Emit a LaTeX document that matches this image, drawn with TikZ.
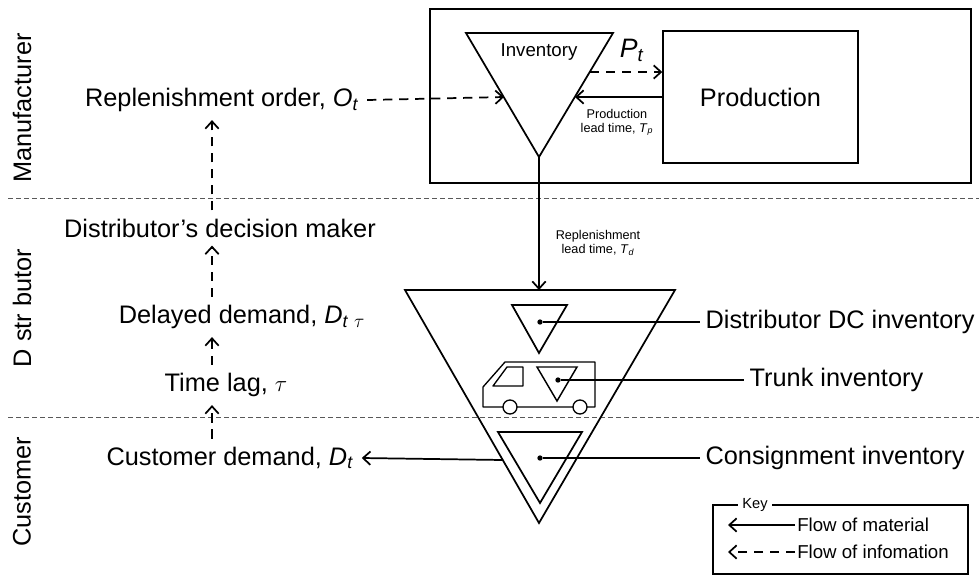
\documentclass[tikz,border=0pt]{standalone}
\usepackage{fontspec}
\setmainfont{Liberation Sans}
\usetikzlibrary{positioning,arrows.meta}
\newcommand{\vsub}[2]{\textit{#1}\textsubscript{\textit{#2}}}

\begin{document}
\begin{tikzpicture}[
    x=0.75pt, y=-0.75pt,
    node distance=4pt,
    lbl/.style={font=\fontsize{19}{22}\selectfont, inner sep=6pt},
    side/.style={font=\fontsize{19}{22}\selectfont, rotate=90},
    small/.style={font=\fontsize{9.5}{10.5}\selectfont, align=center, inner sep=1pt},
    keytext/.style={font=\fontsize{14}{16}\selectfont, anchor=west, inner sep=1.5pt},
    frame/.style={draw, line width=1.3pt},
    tri/.style={draw, line width=1.3pt, line join=miter},
    truck/.style={draw, line width=1pt, line join=round},
    arrow/.style={-{Straight Barb[length=5.5pt,width=10pt]}, line width=1.3pt},
    infoarrow/.style={arrow, dash pattern=on 7pt off 5pt},
    sep/.style={draw, gray!70!black, line width=0.6pt, dash pattern=on 4pt off 2pt},
    leader/.style={draw, line width=0.8pt},
    dot/.style={circle, fill, inner sep=0pt, minimum size=4pt}
]
\useasboundingbox (0,0) rectangle (979,576);

% tiers
\draw[sep] (8,198) -- (979,198);
\draw[sep] (8,417) -- (979,417);
\node[side] (manu) at (22,108) {Manufacturer};
\node[side] (dist) at (22,308) {D str butor};
\node[side] (cust) at (22,492) {Customer};

% manufacturer
\draw[frame] (430,9) rectangle (971,183);
\node[frame, minimum width=146pt, minimum height=99pt, font=\fontsize{19}{22}\selectfont] (prod) at (760.5,97) {Production};
\draw[tri] (466,33) -- (613,33) -- (539,157) -- cycle;
\node[font=\fontsize{14}{16}\selectfont] (invlabel) at (539,52) {Inventory};
\coordinate (inv-apex) at (539,157);
\coordinate (inv-pt) at (590,72);
\coordinate (inv-lt) at (575,97);
\coordinate (inv-in) at (504,97);
\draw[infoarrow] (inv-pt) -- (inv-pt -| prod.west);
\draw[arrow] (prod.west |- inv-lt) -- (inv-lt);
\node[font=\fontsize{20}{22}\selectfont] (pt) at (632,50) {\vsub{P}{t}};
\node[small] (tp) at (617,122) {Production\\lead time, \vsub{T}{p}};

% information flow
\coordinate (infoline) at (212,0);
\node[lbl] (order) at (222,100) {Replenishment order, \vsub{O}{t}};
\node[lbl] (decision) at (220,228) {Distributor’s decision maker};
\node[lbl] (delayed) at (242,317) {Delayed demand, \textit{D}\textsubscript{\textit{t}\,\,$\tau$}};
\node[lbl] (lag) at (226,385) {Time lag, $\tau$};
\node[lbl] (custdem) at (230,458) {Customer demand, \vsub{D}{t}};
\draw[infoarrow] (order.east) -- (inv-in);
\draw[infoarrow] (custdem.north -| infoline) -- (lag.south -| infoline);
\draw[infoarrow] (lag.north -| infoline) -- (delayed.south -| infoline);
\draw[infoarrow] (delayed.north -| infoline) -- (decision.south -| infoline);
\draw[infoarrow] (decision.north -| infoline) -- (order.south -| infoline);

% distributor
\draw[tri] (405,290) -- (675,290) -- (539,523) -- cycle;
\coordinate (dc-top) at (539,290);
\coordinate (dc-left) at (503,460);
\draw[arrow] (inv-apex) -- (dc-top);
\node[small] (td) at (598,243) {Replenishment\\lead time, \vsub{T}{d}};

\draw[tri] (512,305) -- (567,305) -- (539,353) -- cycle;
\node[dot] (dcdot) at (540,322) {};
\node[lbl, anchor=west, inner sep=4pt] (dclabel) at (700,322) {Distributor DC inventory};
\draw[leader] (dcdot) -- (dclabel.west);

\draw[truck] (483,407) -- (483,387) -- (505,362) -- (595,362) -- (595,407) -- cycle;
\draw[truck] (493,386) -- (507,367) -- (523,367) -- (523,386) -- cycle;
\draw[truck, fill=white] (510,407) circle[radius=7];
\draw[truck, fill=white] (580,407) circle[radius=7];
\draw[tri, line width=1.1pt] (537,367) -- (577,367) -- (557,401) -- cycle;
\node[dot] (trkdot) at (558,380) {};
\node[lbl, anchor=west, inner sep=4pt] (trklabel) at (744,380) {Trunk inventory};
\draw[leader] (trkdot) -- (trklabel.west);

\draw[tri] (498,432) -- (582,432) -- (540,503) -- cycle;
\node[dot] (condot) at (540,458) {};
\node[lbl, anchor=west, inner sep=4pt] (conlabel) at (700,458) {Consignment inventory};
\draw[leader] (condot) -- (conlabel.west);
\draw[arrow] (dc-left) -- (custdem.east);

% key
\draw[line width=0.8pt] (713,505) rectangle (968,574);
\node[fill=white, font=\fontsize{11}{13}\selectfont, inner sep=3pt] (key) at (755,505) {Key};
\node[keytext] (matlabel) at (795,525) {Flow of material};
\node[keytext] (infolabel) at (795,552) {Flow of infomation};
\coordinate (mattip) at (728,525);
\coordinate (infotip) at (728,552);
\draw[arrow] (matlabel.west) -- (mattip);
\draw[infoarrow] (infolabel.west) -- (infotip);

\end{tikzpicture}
\end{document}
